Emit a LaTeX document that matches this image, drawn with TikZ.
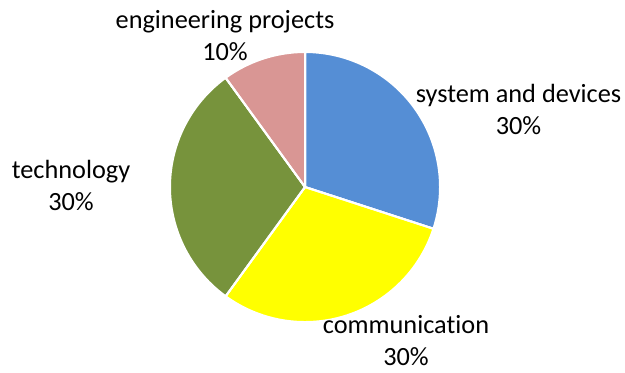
\documentclass[tikz,border=0pt]{standalone}
\usepackage{fontspec}
\setmainfont{Carlito}[Ligatures=NoCommon]
\definecolor{sliceblue}{RGB}{85,142,213}
\definecolor{sliceyellow}{RGB}{255,255,0}
\definecolor{slicegreen}{RGB}{119,147,60}
\definecolor{slicepink}{RGB}{217,150,148}
\begin{document}
\begin{tikzpicture}[x=0.5pt,y=-0.5pt,
  slice/.style={draw=white,line width=1pt,line join=round},
  lbl/.style={align=center,inner sep=0pt,anchor=base,font=\fontsize{13.15}{16}\selectfont,text=black}]
\useasboundingbox (0,0) rectangle (625,372);
\coordinate (c) at (305,187);
\fill[slice,fill=sliceblue] (c) -- ++(-90:135) arc[start angle=-90,end angle=18,radius=135] -- cycle;
\fill[slice,fill=sliceyellow] (c) -- ++(18:135) arc[start angle=18,end angle=126,radius=135] -- cycle;
\fill[slice,fill=slicegreen] (c) -- ++(126:135) arc[start angle=126,end angle=234,radius=135] -- cycle;
\fill[slice,fill=slicepink] (c) -- ++(234:135) arc[start angle=234,end angle=270,radius=135] -- cycle;
\draw[slice] (c) -- ++(-90:135) (c) -- ++(18:135) (c) -- ++(126:135) (c) -- ++(234:135);
\node[lbl] (sys) at (518.5,134) {system and devices\\30\%};
\node[lbl] (eng) at (225,60) {engineering projects\\10\%};
\node[lbl] (tec) at (71,210) {technology\\30\%};
\node[lbl] (com) at (406,365) {communication\\30\%};
\end{tikzpicture}
\end{document}
